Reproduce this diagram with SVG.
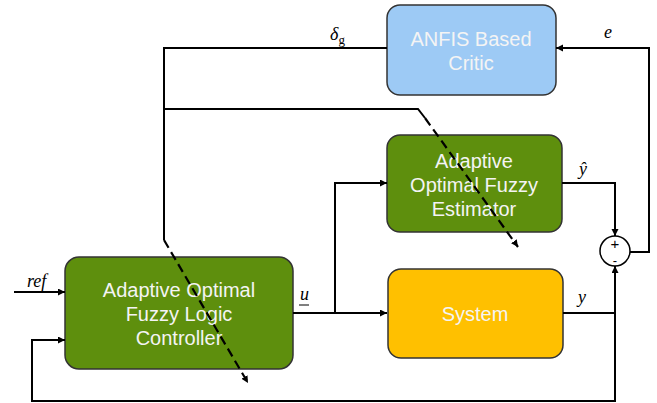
<svg xmlns="http://www.w3.org/2000/svg" width="657" height="403" viewBox="0 0 657 403">
  <defs>
    <marker id="arrow" markerUnits="userSpaceOnUse" markerWidth="8" markerHeight="8" refX="7" refY="3.5" orient="auto">
      <path d="M0,0 L7,3.5 L0,7 Z" fill="#000"/>
    </marker>
    <style>
      .box { stroke: #333; stroke-width: 1.5; }
      .blue { fill: #9dcaf5; }
      .green { fill: #5e8f0d; }
      .orange { fill: #ffc000; }
      .lbl { font-family: "Liberation Sans", Arial, sans-serif; font-size: 20px; fill: #f4f4f4; text-anchor: middle; }
      .math { font-family: "Liberation Serif", "Times New Roman", serif; font-style: italic; font-size: 18px; fill: #000; }
      .sign { font-family: "Liberation Sans", Arial, sans-serif; fill: #000; text-anchor: middle; }
      .wire { fill: none; stroke: #000; stroke-width: 2; }
      .dash { fill: none; stroke: #000; stroke-width: 2.2; stroke-dasharray: 9 5; }
    </style>
  </defs>

  <rect width="657" height="403" fill="#fff"/>

  <!-- nodes -->
  <g id="critic">
    <rect class="box blue" x="387" y="5" width="169" height="90" rx="13"/>
    <text class="lbl" x="471" y="46">ANFIS Based</text>
    <text class="lbl" x="471" y="70">Critic</text>
  </g>

  <g id="estimator">
    <rect class="box green" x="387" y="135" width="175" height="97" rx="13"/>
    <text class="lbl" x="474" y="168">Adaptive</text>
    <text class="lbl" x="474" y="192">Optimal Fuzzy</text>
    <text class="lbl" x="474" y="216">Estimator</text>
  </g>

  <g id="controller">
    <rect class="box green" x="65" y="257" width="228" height="112" rx="14"/>
    <text class="lbl" x="179" y="297">Adaptive Optimal</text>
    <text class="lbl" x="179" y="321">Fuzzy Logic</text>
    <text class="lbl" x="179" y="345">Controller</text>
  </g>

  <g id="system">
    <rect class="box orange" x="388" y="269" width="175" height="89" rx="13"/>
    <text class="lbl" x="475" y="321">System</text>
  </g>

  <!-- connectors, drawn over the blocks so the tuning arrows cross them -->
  <g id="connectors">
    <!-- critic output delta_g down to the tuning arrows -->
    <path class="wire" d="M387,48 H164 V240"/>
    <path class="wire" d="M164,109 H418 L425,118"/>
    <line class="dash" x1="164" y1="240" x2="248" y2="383" marker-end="url(#arrow)"/>
    <line class="dash" x1="425" y1="118" x2="518" y2="247" marker-end="url(#arrow)"/>
    <!-- reference input -->
    <path class="wire" d="M14,292 H65" marker-end="url(#arrow)"/>
    <!-- control signal u -->
    <path class="wire" d="M293,313 H387" marker-end="url(#arrow)"/>
    <path class="wire" d="M335,313 V183 H387" marker-end="url(#arrow)"/>
    <!-- estimator output -->
    <path class="wire" d="M562,183 H615 V236" marker-end="url(#arrow)"/>
    <!-- plant output y -->
    <path class="wire" d="M563,313 H615 V266" marker-end="url(#arrow)"/>
    <path class="wire" d="M615,313 V401 H32 V340 H65" marker-end="url(#arrow)"/>
    <!-- error e to critic -->
    <path class="wire" d="M630,252 H649 V48 H556" marker-end="url(#arrow)"/>
  </g>

  <!-- summing junction -->
  <g id="summer">
    <circle cx="615" cy="251" r="15" fill="#fff" stroke="#000" stroke-width="1.5"/>
    <text class="sign" x="615" y="249" font-size="15">+</text>
    <text class="sign" x="615" y="265" font-size="13">-</text>
  </g>

  <!-- signal labels -->
  <g id="labels">
    <text class="math" x="330" y="40" font-size="19">δ<tspan font-style="normal" font-size="13" dy="4">g</tspan></text>
    <text class="math" x="604" y="38">e</text>
    <text class="math" x="579" y="175">ŷ</text>
    <text class="math" x="578" y="303">y</text>
    <text class="math" x="300" y="300">u</text>
    <line x1="299" y1="305" x2="309" y2="305" stroke="#000" stroke-width="1"/>
    <text class="math" x="27" y="287">ref</text>
  </g>
</svg>
